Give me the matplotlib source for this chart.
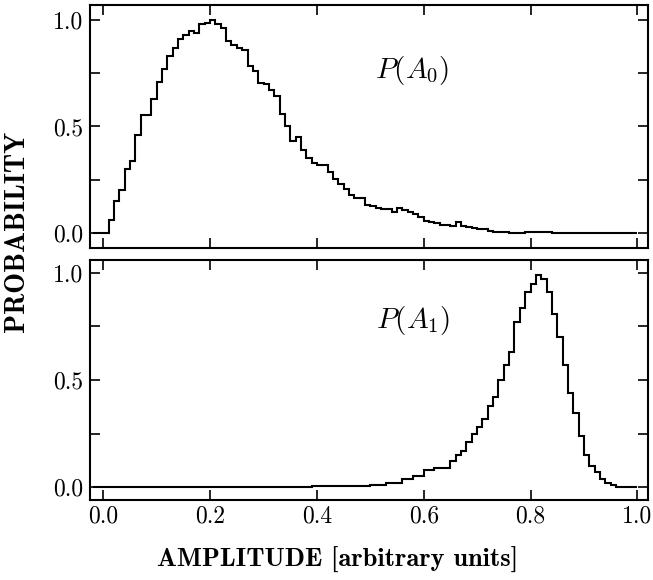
import matplotlib
matplotlib.use("AGG")
import matplotlib.pyplot as plt
import numpy as np

# histogram bins: width 0.01, starting at -0.02 (two empty bins before 0)
bin_start = -0.02
bin_width = 0.01

# P(A0): broad peak near 0.2
p_a0 = [0.0, 0.0,
        0.0, 0.06, 0.15, 0.20, 0.30, 0.34, 0.46, 0.555, 0.555, 0.63,
        0.71, 0.77, 0.83, 0.87, 0.91, 0.93, 0.95, 0.94, 0.98, 0.985,
        1.0, 0.98, 0.96, 0.90, 0.88, 0.87, 0.86, 0.785, 0.76, 0.705,
        0.70, 0.67, 0.645, 0.56, 0.50, 0.43, 0.45, 0.39, 0.35, 0.33,
        0.32, 0.32, 0.285, 0.255, 0.23, 0.205, 0.18, 0.165, 0.165, 0.13,
        0.125, 0.12, 0.115, 0.115, 0.10, 0.12, 0.11, 0.10, 0.09, 0.075,
        0.055, 0.05, 0.045, 0.04, 0.04, 0.035, 0.05, 0.035, 0.03, 0.025,
        0.017, 0.017, 0.01, 0.007, 0.007, 0.005, 0.0, 0.0, 0.0, 0.005,
        0.005, 0.005, 0.005, 0.005, 0.0, 0.0, 0.0, 0.0, 0.0, 0.0,
        0.0, 0.0, 0.0, 0.0, 0.0, 0.0, 0.0, 0.0, 0.0, 0.0]

# P(A1): sharp peak near 0.82
p_a1 = [0.0, 0.0,
        0.0, 0.0, 0.0, 0.0, 0.0, 0.0, 0.0, 0.0, 0.0, 0.0,
        0.0, 0.0, 0.0, 0.0, 0.0, 0.0, 0.0, 0.0, 0.0, 0.0,
        0.0, 0.0, 0.0, 0.0, 0.0, 0.0, 0.0, 0.0, 0.0, 0.0,
        0.0, 0.0, 0.0, 0.0, 0.0, 0.0, 0.0, 0.0, 0.0, 0.005,
        0.005, 0.005, 0.005, 0.005, 0.005, 0.005, 0.005, 0.005, 0.005, 0.005,
        0.012, 0.012, 0.012, 0.02, 0.02, 0.02, 0.04, 0.04, 0.05, 0.05,
        0.08, 0.08, 0.09, 0.09, 0.09, 0.12, 0.15, 0.17, 0.21, 0.25,
        0.28, 0.32, 0.38, 0.42, 0.50, 0.57, 0.63, 0.77, 0.835, 0.91,
        0.95, 0.99, 0.97, 0.91, 0.81, 0.70, 0.57, 0.44, 0.345, 0.24,
        0.15, 0.10, 0.07, 0.04, 0.02, 0.01, 0.0, 0.0, 0.0, 0.0]

x_ticks = [0.0, 0.2, 0.4, 0.6, 0.8, 1.0]
y_ticks = [0.0, 0.5, 1.0]
y_minor = [0.25, 0.75]

plt.rcParams['font.family'] = ['cmr10', 'DejaVu Serif']
plt.rcParams['mathtext.fontset'] = 'cm'
plt.rcParams['axes.formatter.use_mathtext'] = True
plt.rcParams['axes.linewidth'] = 1.5

edges = bin_start + bin_width * np.arange(len(p_a0) + 1)

fig = plt.figure(figsize=(6.53, 5.8), dpi=100)
ax_top = fig.add_axes([0.1378, 0.5724, 0.8545, 0.419])
ax_bot = fig.add_axes([0.1378, 0.1379, 0.8545, 0.4138])

def style(ax, values, ylim, show_x):
    ax.stairs(values, edges, color='black', lw=1.5)
    ax.set_xlim(-0.025, 1.02)
    ax.set_ylim(*ylim)
    ax.set_xticks(x_ticks)
    ax.set_yticks(y_ticks)
    ax.set_yticks(y_minor, minor=True)
    ax.set_yticklabels(["{:.1f}".format(v) for v in y_ticks])
    if show_x:
        ax.set_xticklabels(["{:.1f}".format(v) for v in x_ticks])
    else:
        ax.set_xticklabels([])
    ax.tick_params(which='both', direction='in', top=True, right=True,
                   length=7, width=1.2, labelsize=17)
    ax.tick_params(axis='y', pad=5)
    ax.tick_params(axis='x', pad=4)

style(ax_top, p_a0, (-0.07, 1.07), False)
style(ax_bot, p_a1, (-0.06, 1.06), True)

ax_top.text(0.577, 0.73, r'$P(A_0)$', transform=ax_top.transAxes,
            ha='center', va='center', fontsize=21)
ax_bot.text(0.579, 0.75, r'$P(A_1)$', transform=ax_bot.transAxes,
            ha='center', va='center', fontsize=21)

fig.text(338 / 653, 1 - 567 / 580, 'AMPLITUDE [arbitrary units]',
         family=['cmb10', 'DejaVu Serif'], fontsize=19,
         ha='center', va='baseline')
fig.text(17 / 653, 1 - 231 / 580, 'PROBABILITY',
         family=['cmb10', 'DejaVu Serif'], fontsize=20,
         ha='center', va='center', rotation=90)

fig.savefig('out.png', dpi=100)
